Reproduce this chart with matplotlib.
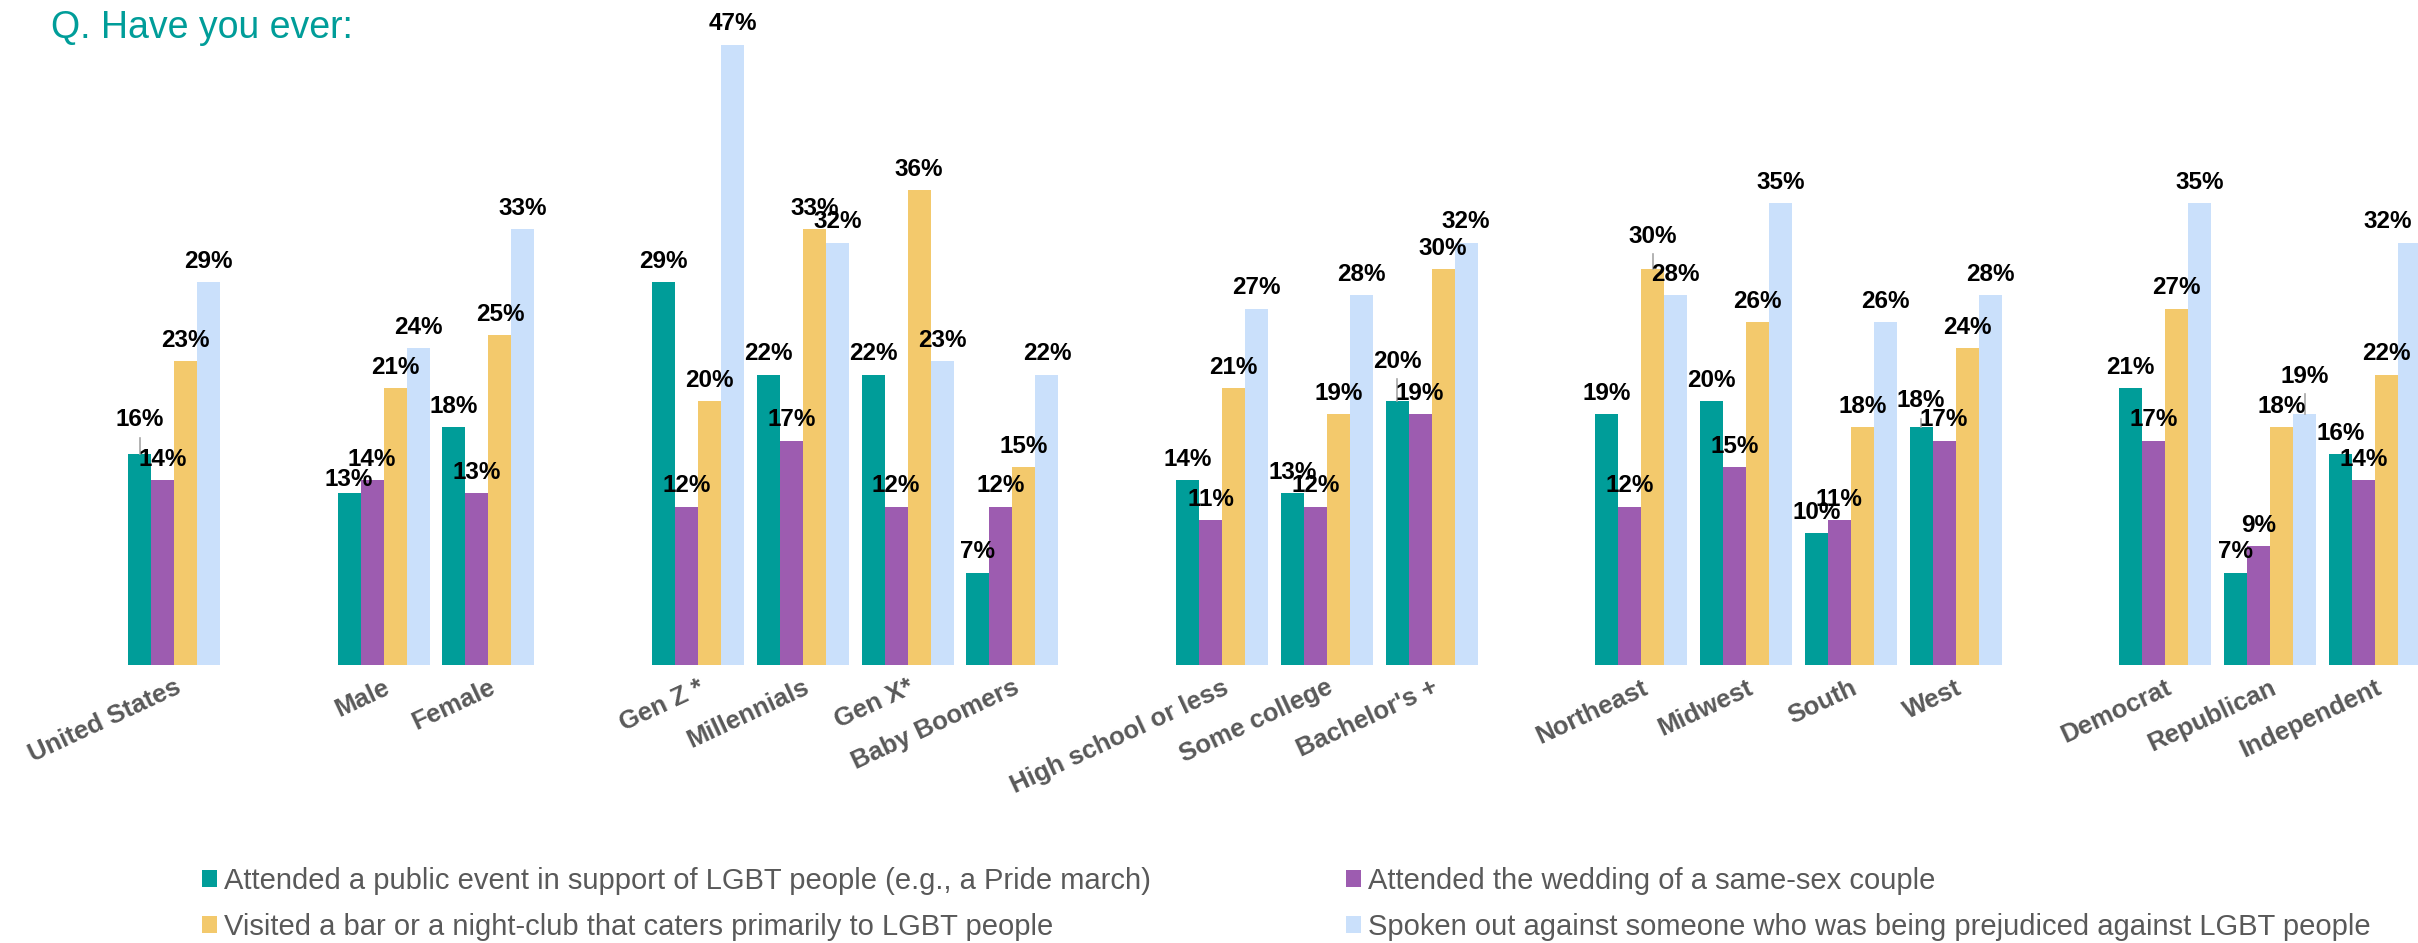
import numpy as np
import matplotlib
matplotlib.use('Agg')
import matplotlib.pyplot as plt
from matplotlib.patches import Patch

plt.rcParams['font.family'] = ['Liberation Sans', 'DejaVu Sans']

# groups, in order; sections are separated by one empty slot
categories = ['United States', 'Male', 'Female',
              'Gen Z *', 'Millennials', 'Gen X*', 'Baby Boomers',
              'High school or less', 'Some college', "Bachelor's +",
              'Northeast', 'Midwest', 'South', 'West',
              'Democrat', 'Republican', 'Independent']
section_sizes = [1, 2, 4, 3, 4, 3]

series_names = ['Attended a public event in support of LGBT people (e.g., a Pride march)',
                'Attended the wedding of a same-sex couple',
                'Visited a bar or a night-club that caters primarily to LGBT people',
                'Spoken out against someone who was being prejudiced against LGBT people']
public_event = [16, 13, 18, 29, 22, 22, 7, 14, 13, 20, 19, 20, 10, 18, 21, 7, 16]
wedding = [14, 14, 13, 12, 17, 12, 12, 11, 12, 19, 12, 15, 11, 17, 17, 9, 14]
bar_club = [23, 21, 25, 20, 33, 36, 15, 21, 19, 30, 30, 26, 18, 24, 27, 18, 22]
spoken_out = [29, 24, 33, 47, 32, 23, 22, 27, 28, 32, 28, 35, 26, 28, 35, 19, 32]

colors = ['#009D99', '#9D5CB0', '#F3C96C', '#CAE0FB']
label_gray = '#595959'

# a few labels were dragged around (with a leader line) in the original
label_lift = {(0, 0): 1.0, (1, 0): -0.5, (9, 0): 1.45, (10, 2): 0.9,
              (13, 0): 0.45, (15, 3): 1.3}
label_shift_px = {(16, 3): -22}

series = [public_event, wedding, bar_club, spoken_out]

pos = []
slot = 0
for n in section_sizes:
    for i in range(n):
        pos.append(slot)
        slot += 1
    slot += 1
pos = np.array(pos, dtype=float)

W, H = 2418, 943
fig = plt.figure(figsize=(W / 100, H / 100), dpi=100)

base_px = 665
px_per_pct = 13.2
pitch_px = 104.8
first_center_px = 174

ax = fig.add_axes([0, (H - base_px) / H, 1, base_px / H])
ax.set_xlim(-first_center_px / pitch_px, (W - first_center_px) / pitch_px)
ax.set_ylim(0, base_px / px_per_pct)
ax.axis('off')

bw = 23 / pitch_px
for s, vals in enumerate(series):
    xs = pos + (s - 1.5) * bw
    ax.bar(xs, vals, width=bw, color=colors[s], linewidth=0)
    for i, (x, v) in enumerate(zip(xs, vals)):
        lift = label_lift.get((i, s), 0)
        dx = label_shift_px.get((i, s), 0) / pitch_px
        if lift > 0.3:
            ax.plot([x, x], [v, v + lift + 0.2], color='#A6A6A6', lw=1.2)
        ax.text(x + dx, v + 0.7 + lift, '%d%%' % v, ha='center', va='bottom',
                fontsize=17.5, fontweight='bold', color='black')

for x, name in zip(pos, categories):
    ax.text(x, -0.8, name, rotation=25, rotation_mode='anchor',
            ha='right', va='top', fontsize=18.5, fontweight='bold',
            color=label_gray, clip_on=False)

fig.text(51 / W, 1 - 28 / H, 'Q. Have you ever:', fontsize=27,
         color='#009D99', va='center', ha='left')

handles = [Patch(facecolor=c, edgecolor='none') for c in colors]
leg_kw = dict(frameon=False, fontsize=21, handlelength=0.5, handleheight=0.5,
              handletextpad=0.25, labelspacing=0.62, borderpad=0,
              borderaxespad=0, loc='center left', labelcolor=label_gray)
fig.legend([handles[0], handles[2]], [series_names[0], series_names[2]],
           bbox_to_anchor=(202 / W, 1 - 904 / H), **leg_kw)
fig.legend([handles[1], handles[3]], [series_names[1], series_names[3]],
           bbox_to_anchor=(1346 / W, 1 - 904 / H), **leg_kw)

fig.savefig('out.png', dpi=100)
